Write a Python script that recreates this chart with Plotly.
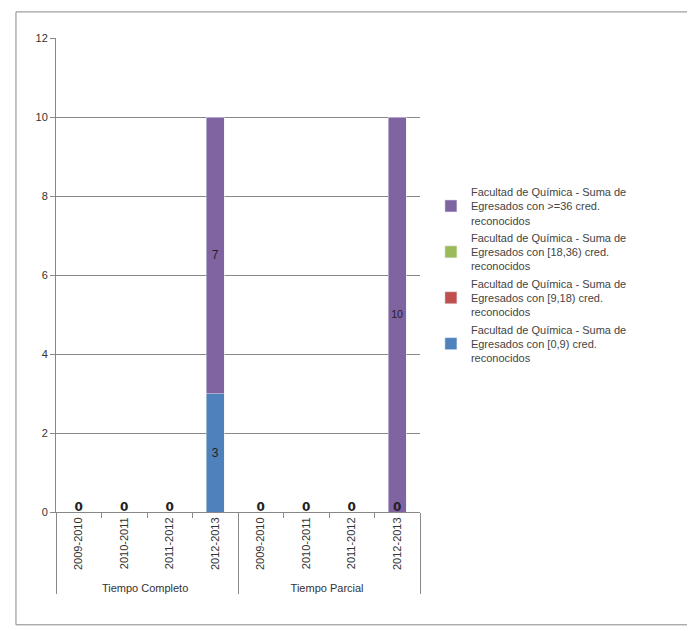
import plotly.graph_objects as go

groups = ["Tiempo Completo"]*4 + ["Tiempo Parcial"]*4
years = ["2009-2010", "2010-2011", "2011-2012", "2012-2013"]*2
s_0_9 = [0, 0, 0, 3, 0, 0, 0, 0]
s_9_18 = [0, 0, 0, 0, 0, 0, 0, 0]
s_18_36 = [0, 0, 0, 0, 0, 0, 0, 0]
s_36 = [0, 0, 0, 7, 0, 0, 0, 10]
names = ["Facultad de Química - Suma de<br>Egresados con [0,9) cred.<br>reconocidos",
         "Facultad de Química - Suma de<br>Egresados con [9,18) cred.<br>reconocidos",
         "Facultad de Química - Suma de<br>Egresados con [18,36) cred.<br>reconocidos",
         "Facultad de Química - Suma de<br>Egresados con >=36 cred.<br>reconocidos"]
colors = ["#4F81BD", "#C0504D", "#9BBB59", "#8064A2"]
series = [s_0_9, s_9_18, s_18_36, s_36]

fig = go.Figure()
x = [groups, years]
for s, n, c in zip(series, names, colors):
    fig.add_trace(go.Bar(x=x, y=s, name=n, marker_color=c, width=0.4,
                         text=[str(v) if v else "" for v in s], textposition="inside",
                         insidetextanchor="middle", textfont=dict(color="#222", size=12)))
zero_txt = ["0" if s_0_9[i] == 0 else "" for i in range(8)]
fig.add_trace(go.Scatter(x=x, y=[0.1]*8, mode="text", text=zero_txt, showlegend=False,
                         textfont=dict(color="#222", size=12, family="DejaVu Sans"),
                         texttemplate="<b>%{text}</b>"))
fig.update_layout(
    barmode="stack", width=695, height=631, plot_bgcolor="white", paper_bgcolor="white",
    margin=dict(l=48, r=283, t=30, b=127),
    font=dict(family="Liberation Sans", size=11, color="#333"),
    legend=dict(traceorder="reversed", x=1.03, y=0.5, yanchor="middle",
                tracegroupgap=12, font=dict(size=11, color="#444")),
    yaxis=dict(range=[0, 12], dtick=2, gridcolor="#888", showline=True, linecolor="#888",
               ticks="outside", tickcolor="#888", ticklen=5, zeroline=False),
    xaxis=dict(type="multicategory", tickangle=-90, showline=True, linecolor="#888",
               showdividers=True, dividercolor="#888", ticks="outside", tickcolor="#888"),
    shapes=[dict(type="rect", xref="paper", yref="paper", x0=-0.11, y0=-0.238, x1=1.758, y1=1.055,
                 line=dict(color="#888", width=1))],
)
fig.write_html("out.html")
